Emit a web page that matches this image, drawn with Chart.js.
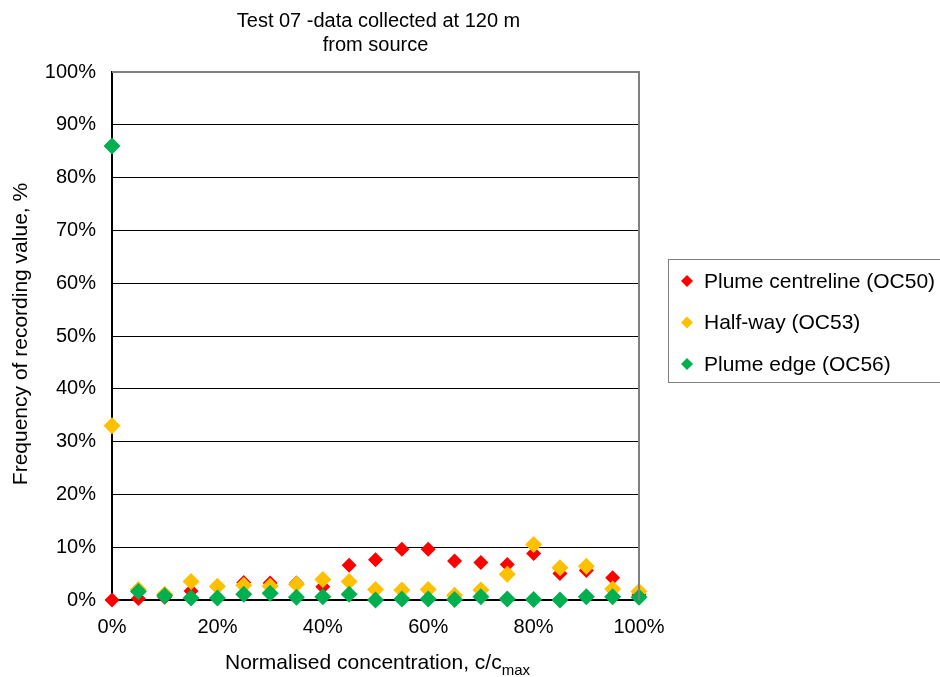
<!DOCTYPE html>
<html>
<head>
<meta charset="utf-8">
<title>Test 07 - data collected at 120 m from source</title>
<script src="https://cdn.jsdelivr.net/npm/chart.js@4/dist/chart.umd.min.js"></script>
<style>
    html, body { margin: 0; padding: 0; background: #fff; }
    #wrap { position: relative; width: 940px; height: 677px; }
</style>
</head>
<body>
<div id="wrap"><canvas id="freqChart" width="940" height="677"></canvas></div>
<script>
// ============================================================
// DATA
// ============================================================
const concentration = [0, 5, 10, 15, 20, 25, 30, 35, 40, 45, 50, 55, 60, 65, 70, 75, 80, 85, 90, 95, 100];
const centreline    = [0, 0.3, 0.5, 1.7, 2.5, 3.3, 3.2, 3.2, 2.5, 6.6, 7.6, 9.6, 9.6, 7.4, 7.1, 6.7, 8.8, 5.0, 5.6, 4.2, 1.0];
const halfWay       = [33, 2.0, 1.1, 3.5, 2.6, 2.8, 2.6, 3.0, 3.9, 3.5, 2.0, 1.9, 2.0, 0.9, 1.9, 4.9, 10.5, 6.1, 6.4, 2.1, 1.6];
const plumeEdge     = [86, 1.6, 0.8, 0.4, 0.4, 1.1, 1.3, 0.5, 0.6, 1.1, 0, 0.2, 0.2, 0.1, 0.6, 0.2, 0.1, 0, 0.6, 0.6, 0.5];
const seriesNames   = ['Plume centreline (OC50)', 'Half-way (OC53)', 'Plume edge (OC56)'];
const seriesColors  = ['#FF0000', '#FFC000', '#00B050'];
const titleLines    = ['Test 07 -data collected at 120 m', 'from source'];

(function() {
    'use strict';

    const FONT = '"Liberation Sans", Arial, Helvetica, sans-serif';

    function toPoints(values) {
        return values.map((v, i) => ({ x: concentration[i], y: v }));
    }

    function diamond(ctx, x, y, r, color) {
        ctx.fillStyle = color;
        ctx.beginPath();
        ctx.moveTo(x, y - r);
        ctx.lineTo(x + r, y);
        ctx.lineTo(x, y + r);
        ctx.lineTo(x - r, y);
        ctx.closePath();
        ctx.fill();
    }

    // ------------------------------------------------------------
    // Texts, frame and legend placed like the Excel original
    // ------------------------------------------------------------
    const decorPlugin = {
        id: 'decor',
        afterDraw(chart) {
            const { ctx, chartArea: a } = chart;
            ctx.save();

            // grey top / right frame
            ctx.strokeStyle = '#808080';
            ctx.lineWidth = 2;
            ctx.beginPath();
            ctx.moveTo(a.left, a.top);
            ctx.lineTo(a.right, a.top);
            ctx.lineTo(a.right, a.bottom);
            ctx.stroke();

            ctx.fillStyle = '#000';
            ctx.textAlign = 'center';
            ctx.textBaseline = 'alphabetic';
            ctx.font = '20px ' + FONT;
            const cx = (a.left + a.right) / 2;
            ctx.fillText(titleLines[0], cx + 3, 27);
            ctx.fillText(titleLines[1], cx, 51);

            // x axis title with subscript
            const main = 'Normalised concentration, c/c';
            const sub = 'max';
            ctx.font = '21px ' + FONT;
            const wMain = ctx.measureText(main).width;
            ctx.font = '15px ' + FONT;
            const wSub = ctx.measureText(sub).width;
            const x0 = cx + 2 - (wMain + wSub) / 2;
            ctx.textAlign = 'left';
            ctx.font = '21px ' + FONT;
            ctx.fillText(main, x0, 669);
            ctx.font = '15px ' + FONT;
            ctx.fillText(sub, x0 + wMain, 675);

            // y axis title
            ctx.save();
            ctx.translate(27, 334);
            ctx.rotate(-Math.PI / 2);
            ctx.textAlign = 'center';
            ctx.font = '21px ' + FONT;
            ctx.fillText('Frequency of recording value, %', 0, 0);
            ctx.restore();

            // legend box
            ctx.strokeStyle = '#808080';
            ctx.lineWidth = 1;
            ctx.strokeRect(668.5, 259.5, 280, 123);
            ctx.font = '21px ' + FONT;
            ctx.textBaseline = 'middle';
            seriesNames.forEach((name, i) => {
                const y = 281 + i * 41.5;
                diamond(ctx, 687, y, 6, seriesColors[i]);
                ctx.fillStyle = '#000';
                ctx.fillText(name, 704, y + 1);
            });

            ctx.restore();
        }
    };

    function makeDataset(idx, values, radius, order) {
        return {
            label: seriesNames[idx],
            data: toPoints(values),
            pointStyle: 'rectRot',
            pointRadius: radius,
            pointHoverRadius: radius,
            backgroundColor: seriesColors[idx],
            borderColor: seriesColors[idx],
            borderWidth: 0,
            clip: false,
            order
        };
    }

    function init() {
        const el = document.getElementById('freqChart');

        new Chart(el.getContext('2d'), {
            type: 'scatter',
            data: {
                datasets: [
                    makeDataset(0, centreline, 7.5, 3),
                    makeDataset(1, halfWay, 8.5, 2),
                    makeDataset(2, plumeEdge, 8.5, 1)
                ]
            },
            options: {
                responsive: false,
                animation: false,
                layout: { padding: { left: 0, top: 72, right: 301, bottom: 0 } },
                scales: {
                    x: {
                        type: 'linear',
                        min: 0,
                        max: 100,
                        afterFit(scale) { scale.height = 77; },
                        ticks: {
                            stepSize: 20,
                            padding: 15,
                            color: '#000',
                            font: { family: FONT, size: 20 },
                            callback: v => v + '%'
                        },
                        grid: { display: false, drawTicks: false },
                        border: { color: '#000', width: 2 }
                    },
                    y: {
                        min: 0,
                        max: 100,
                        afterFit(scale) { scale.width = 112; },
                        ticks: {
                            stepSize: 10,
                            padding: 16,
                            color: '#000',
                            font: { family: FONT, size: 20 },
                            callback: v => v + '%'
                        },
                        grid: { color: '#000', lineWidth: 1, drawTicks: false },
                        border: { color: '#000', width: 2 }
                    }
                },
                plugins: {
                    legend: { display: false },
                    title: { display: false },
                    tooltip: { enabled: false }
                }
            },
            plugins: [decorPlugin]
        });
    }

    document.readyState === 'loading'
        ? document.addEventListener('DOMContentLoaded', init)
        : init();
})();
</script>
</body>
</html>
